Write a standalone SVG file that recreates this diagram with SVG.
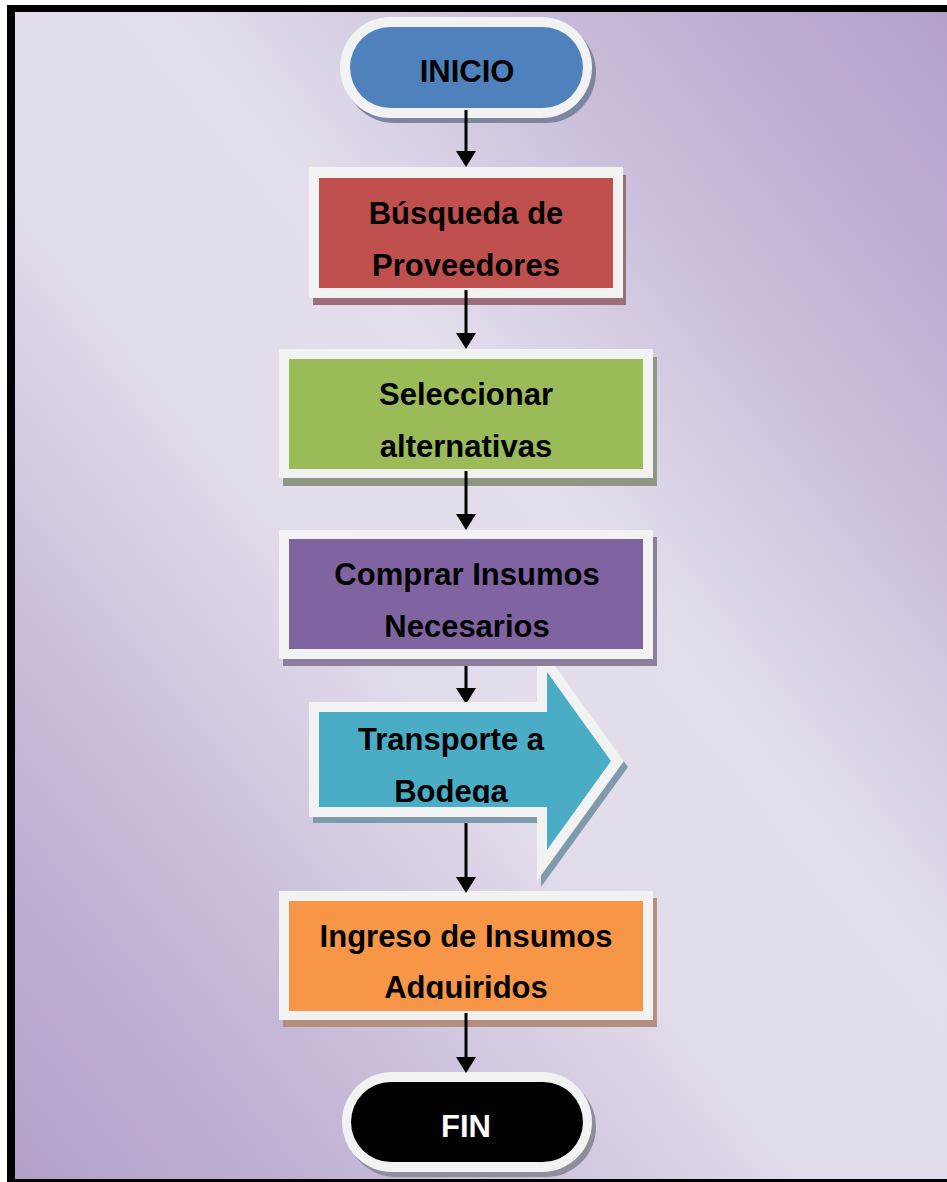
<svg xmlns="http://www.w3.org/2000/svg" width="947" height="1182" viewBox="0 0 947 1182">
  <defs>
    <!-- page background: purple corners, light diagonal band -->
    <linearGradient id="bg" x1="0" y1="1" x2="1" y2="0">
      <stop offset="0" stop-color="#b1a1c8"/>
      <stop offset="0.2" stop-color="#c4b7d7"/>
      <stop offset="0.42" stop-color="#e2dbea"/>
      <stop offset="0.58" stop-color="#e4deec"/>
      <stop offset="0.8" stop-color="#c5b8d8"/>
      <stop offset="1" stop-color="#b1a1c8"/>
    </linearGradient>
    <marker id="head" markerUnits="userSpaceOnUse" viewBox="0 0 16 20" markerWidth="16" markerHeight="20" refX="10" refY="10" orient="auto">
      <path d="M0,0 L16,10 L0,20 Z" fill="#000"/>
    </marker>
    <clipPath id="clipBodega"><rect x="300" y="700" width="320" height="103"/></clipPath>
    <clipPath id="clipIngreso"><rect x="280" y="890" width="380" height="109"/></clipPath>
  </defs>
  <style>
    .frame { fill: #f2f2f2; }
    .lbl { font-family: "Liberation Sans", Arial, sans-serif; font-weight: bold; font-size: 31px; text-anchor: middle; fill: #000; }
    .lbl-w { fill: #ffffff; }
    .conn { stroke: #000; stroke-width: 3; fill: none; marker-end: url(#head); }
  </style>

  <!-- page and black border -->
  <rect x="0" y="0" width="947" height="1182" fill="#ffffff"/>
  <rect x="7" y="5" width="960" height="1190" fill="#000000"/>
  <rect x="15" y="12" width="940" height="1167" fill="url(#bg)"/>

  <g id="inicio">
    <rect x="344" y="22" width="252" height="101" rx="50.5" fill="#7c86a0"/>
    <rect class="frame" x="340" y="17" width="252" height="101" rx="50.5"/>
    <rect x="350" y="27" width="233" height="81" rx="40.5" fill="#4f81bd"/>
    <text class="lbl" x="467" y="82">INICIO</text>
  </g>

  <g id="busqueda">
    <rect x="313" y="175" width="313" height="130" fill="#9b6e78"/>
    <rect class="frame" x="309" y="167" width="314" height="131"/>
    <rect x="319" y="178" width="294" height="110" fill="#c0504d"/>
    <text class="lbl" x="466" y="224">Búsqueda de</text>
    <text class="lbl" x="466" y="276">Proveedores</text>
  </g>

  <g id="seleccionar">
    <rect x="283" y="357" width="374" height="129" fill="#8e9783"/>
    <rect class="frame" x="279" y="349" width="374" height="129"/>
    <rect x="289" y="359" width="354" height="110" fill="#9bbb59"/>
    <text class="lbl" x="466" y="405">Seleccionar</text>
    <text class="lbl" x="466" y="457">alternativas</text>
  </g>

  <g id="ingreso">
    <rect x="283" y="898" width="374" height="129" fill="#b68e80"/>
    <rect class="frame" x="279" y="891" width="374" height="129"/>
    <rect x="289" y="901" width="354" height="110" fill="#f79646"/>
    <text class="lbl" x="466" y="947">Ingreso de Insumos</text>
    <text class="lbl" x="466" y="998" clip-path="url(#clipIngreso)">Adquiridos</text>
  </g>

  <g id="fin">
    <rect x="346" y="1077" width="250" height="100" rx="50" fill="#8f8d99"/>
    <rect class="frame" x="342" y="1072" width="250" height="100" rx="50"/>
    <rect x="351" y="1082" width="232" height="80" rx="40" fill="#000000"/>
    <text class="lbl lbl-w" x="466" y="1137">FIN</text>
  </g>

  <g id="connectors">
    <line class="conn" x1="466" y1="110" x2="466" y2="161"/>
    <line class="conn" x1="466" y1="290" x2="466" y2="343"/>
    <line class="conn" x1="466" y1="471" x2="466" y2="524"/>
    <line class="conn" x1="466" y1="655" x2="466" y2="698"/>
    <line class="conn" x1="466" y1="815" x2="466" y2="887"/>
    <line class="conn" x1="466" y1="1013" x2="466" y2="1067"/>
  </g>

  <g id="transporte">
    <polygon points="313,708 541,708 541,647 628,767 541,887 541,823 313,823" fill="#7f9aab"/>
    <polygon class="frame" points="309,702 537,702 537,641 624,761 537,881 537,817 309,817"/>
    <polygon points="319,712 547,712 547,672 611,761 547,850 547,807 319,807" fill="#4bacc6"/>
    <text class="lbl" x="451" y="750">Transporte a</text>
    <text class="lbl" x="451" y="802" clip-path="url(#clipBodega)">Bodega</text>
  </g>

  <g id="comprar">
    <rect x="283" y="537" width="374" height="129" fill="#8c7f9e"/>
    <rect class="frame" x="279" y="530" width="374" height="129"/>
    <rect x="289" y="539" width="354" height="110" fill="#8064a2"/>
    <text class="lbl" x="467" y="585">Comprar Insumos</text>
    <text class="lbl" x="467" y="637">Necesarios</text>
  </g>
</svg>
